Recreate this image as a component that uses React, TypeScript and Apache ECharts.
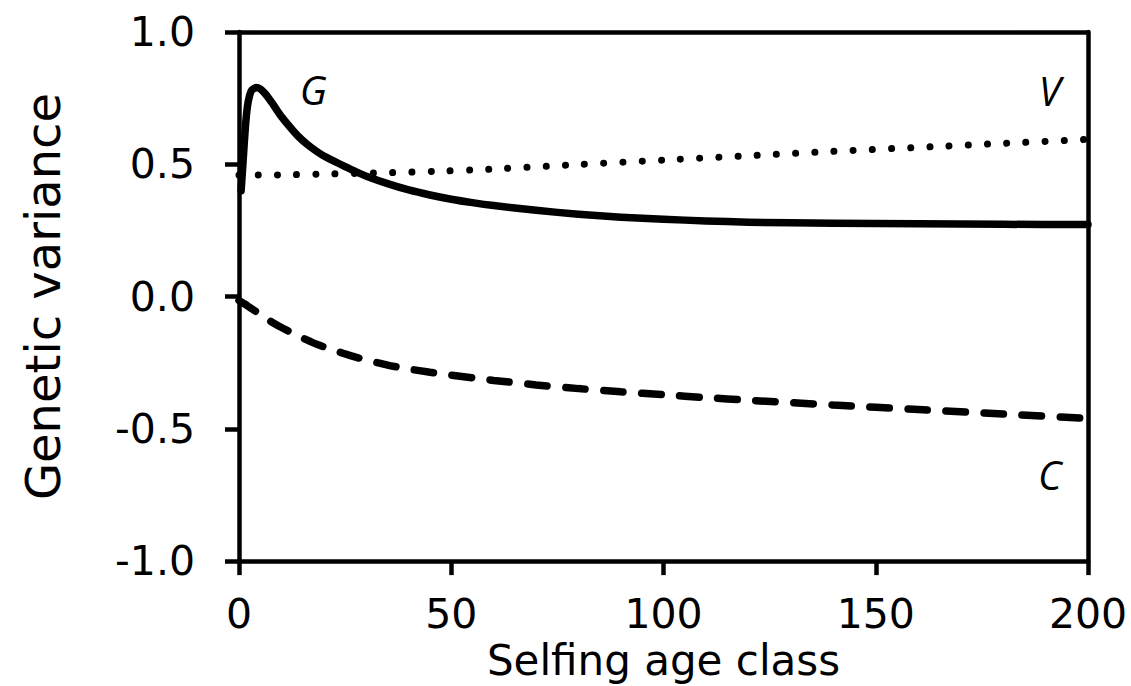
import React, { useEffect, useRef } from "react";
import * as echarts from "echarts";

// Selfing age class (x) and genetic variance (y) for each curve
const gX = [0.5, 1, 1.5, 2, 2.5, 3, 4, 5, 6, 7, 8, 9, 10, 12, 14, 16, 18, 20, 22.5, 25, 27.5, 30, 35, 40, 45, 50, 55, 60, 70, 80, 90, 100, 110, 120, 140, 160, 180, 200];
const gY = [0.40, 0.52, 0.64, 0.72, 0.76, 0.78, 0.79, 0.785, 0.77, 0.75, 0.727, 0.703, 0.68, 0.641, 0.605, 0.576, 0.552, 0.531, 0.511, 0.491, 0.472, 0.455, 0.427, 0.403, 0.384, 0.368, 0.355, 0.344, 0.326, 0.311, 0.300, 0.292, 0.286, 0.281, 0.277, 0.275, 0.273, 0.272];

const vX = [0, 10, 20, 30, 46, 60, 81, 100, 122, 140, 163, 180, 200];
const vY = [0.459, 0.46, 0.463, 0.466, 0.473, 0.482, 0.5, 0.516, 0.534, 0.549, 0.566, 0.579, 0.594];

const cX = [0, 1, 2, 3, 4.5, 6, 8, 10, 12.5, 15, 17.5, 20, 22.5, 25, 27.5, 30, 35, 40, 45, 50, 55, 60, 70, 80, 90, 100, 110, 120, 140, 160, 180, 200];
const cY = [-0.015, -0.025, -0.035, -0.046, -0.062, -0.079, -0.099, -0.117, -0.137, -0.157, -0.175, -0.19, -0.204, -0.217, -0.229, -0.24, -0.259, -0.274, -0.286, -0.297, -0.307, -0.317, -0.334, -0.348, -0.36, -0.371, -0.382, -0.392, -0.41, -0.427, -0.444, -0.461];

const xTicks = [0, 50, 100, 150, 200];
const yTicks = [-1.0, -0.5, 0.0, 0.5, 1.0];

// curve labels: [name, x, y]
const curveLabels: [string, number, number][] = [
  ["G", 17.5, 0.782],
  ["V", 191, 0.778],
  ["C", 191, -0.673],
];

const zip = (xs: number[], ys: number[]) => xs.map((x, i) => [x, ys[i]]);

const AXIS_W = 4.5;

export default function App() {
  const ref = useRef<HTMLDivElement>(null);
  useEffect(() => {
    if (!ref.current) return;
    const chart = echarts.init(ref.current, undefined, { renderer: "svg" });
    const labelStyle = {
      show: true,
      position: "inside",
      fontStyle: "italic",
      fontFamily: "Open Sans",
      fontSize: 40,
      color: "#000",
    };
    const mk = (name: string) => {
      const l = curveLabels.find((c) => c[0] === name)!;
      return {
        symbol: "circle",
        symbolSize: 1,
        itemStyle: { color: "rgba(0,0,0,0)" },
        label: { ...labelStyle, formatter: name },
        data: [{ coord: [l[1], l[2]], value: name }],
      };
    };
    chart.setOption({
      animation: false,
      backgroundColor: "#fff",
      grid: { left: 239, right: 43, top: 32, bottom: 122 },
      xAxis: [
        {
          type: "value",
          min: xTicks[0],
          max: xTicks[xTicks.length - 1],
          interval: 50,
          position: "bottom",
          axisLine: { onZero: false, lineStyle: { color: "#000", width: AXIS_W } },
          axisTick: { length: 14, lineStyle: { color: "#000", width: AXIS_W } },
          splitLine: { show: false },
          axisLabel: { fontSize: 41, fontFamily: "DejaVu Sans", color: "#000", margin: 32 },
          name: "Selfing age class",
          nameLocation: "middle",
          nameGap: 76,
          nameTextStyle: { fontSize: 42, fontFamily: "DejaVu Sans", color: "#000" },
        },
        {
          type: "value",
          min: xTicks[0],
          max: xTicks[xTicks.length - 1],
          position: "top",
          axisLine: { onZero: false, lineStyle: { color: "#000", width: AXIS_W } },
          axisTick: { show: false },
          axisLabel: { show: false },
          splitLine: { show: false },
        },
      ],
      yAxis: [
        {
          type: "value",
          min: yTicks[0],
          max: yTicks[yTicks.length - 1],
          interval: 0.5,
          position: "left",
          axisLine: { onZero: false, lineStyle: { color: "#000", width: AXIS_W } },
          axisTick: { length: 14, lineStyle: { color: "#000", width: AXIS_W } },
          splitLine: { show: false },
          axisLabel: {
            fontSize: 41,
            fontFamily: "DejaVu Sans",
            color: "#000",
            margin: 44,
            formatter: (v: number) => v.toFixed(1),
          },
          name: "Genetic variance",
          nameLocation: "middle",
          nameGap: 172,
          nameTextStyle: { fontSize: 48, fontFamily: "DejaVu Sans", color: "#000" },
        },
        {
          type: "value",
          min: yTicks[0],
          max: yTicks[yTicks.length - 1],
          position: "right",
          axisLine: { onZero: false, lineStyle: { color: "#000", width: AXIS_W } },
          axisTick: { show: false },
          axisLabel: { show: false },
          splitLine: { show: false },
        },
      ],
      series: [
        {
          name: "G",
          type: "line",
          data: zip(gX, gY),
          showSymbol: false,
          symbol: "none",
          smooth: 0.2,
          lineStyle: { color: "#000", width: 7.5, cap: "round", join: "round" },
          markPoint: mk("G"),
          z: 3,
        },
        {
          name: "V",
          type: "line",
          data: zip(vX, vY),
          showSymbol: false,
          symbol: "none",
          smooth: 0.2,
          lineStyle: { color: "#000", width: 7, type: [0.01, 19.2], cap: "round" },
          markPoint: mk("V"),
          z: 2,
        },
        {
          name: "C",
          type: "line",
          data: zip(cX, cY),
          showSymbol: false,
          symbol: "none",
          smooth: 0.2,
          lineStyle: { color: "#000", width: 7.5, type: [19.5, 18.6], cap: "round" },
          markPoint: mk("C"),
          z: 2,
        },
      ],
    });
    return () => chart.dispose();
  }, []);
  return (
    <div
      ref={ref}
      style={{ position: "absolute", left: 0, top: 0, width: 1131, height: 686, background: "#fff" }}
    />
  );
}
